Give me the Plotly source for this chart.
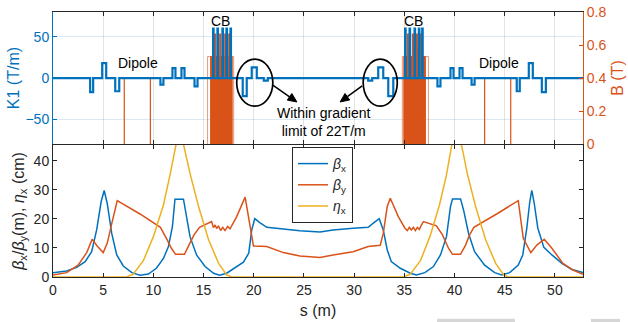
import plotly.graph_objects as go

# ---------------- data ----------------
S_MAX = 52.8

# Quadrupole / gradient elements (start s, end s, K1 in T/m)
quad_start = [3.7, 4.9, 6.2, 10.7, 11.9, 12.8, 14.1,
              15.95, 16.38, 16.88, 17.28, 17.68,
              18.9, 19.8, 21.0,
              31.4, 32.4, 33.4,
              35.08, 35.52, 36.02, 36.45, 36.78,
              38.3, 39.6, 40.5, 41.7, 46.2, 47.4, 48.7]
quad_end = [4.0, 5.3, 6.6, 11.0, 12.2, 13.1, 14.4,
            16.0, 16.43, 16.93, 17.33, 17.73,
            19.3, 20.3, 21.4,
            31.8, 32.9, 33.9,
            35.13, 35.57, 36.07, 36.5, 36.83,
            38.6, 39.9, 40.8, 42.0, 46.5, 47.8, 49.1]
quad_k1 = [-17, 18, -16, -8, 12, 12, -10,
           60, 60, 60, 60, 60,
           -22, 13, -3,
           -3, 13, -22,
           60, 60, 60, 60, 60,
           -10, 12, 12, -8, -16, 18, -17]

# Dipoles (start, end, B in T)
dip_start = [7.1, 43.0]
dip_end = [9.7, 45.6]
dip_b = [0.4, 0.4]

# Compact bend (CB) envelopes
cb_start = [15.4, 34.8]
cb_end = [18.0, 37.4]
cb_b = [0.53, 0.53]
cb_core_start = [15.7, 34.95]
cb_core_end = [17.85, 37.1]
# CB high-field poles
cbp_start = [16.15, 16.65, 17.15, 17.55, 35.35, 35.85, 36.25, 36.65]
cbp_end = [16.22, 16.72, 17.22, 17.62, 35.42, 35.92, 36.32, 36.72]
cbp_b = [0.67] * 8

# Optics functions
bx_s = [0, 1.36, 2.36, 3.2, 3.85, 4.35, 4.8, 5.1, 5.4, 5.85, 6.35, 7.0, 7.85, 8.67, 9.5,
        10.3, 11.0, 11.5, 11.9, 12.15, 13.0, 13.25, 13.65, 14.3, 15.15, 16.0, 16.6, 17.3,
        18.1, 18.97, 19.5, 19.8, 20.1, 20.6, 21.3, 22.95, 24.6, 26.6, 27.9, 29.9, 31.4,
        31.97, 32.5, 32.9, 33.3, 33.7, 34.6, 35.6, 36.2, 37.05, 37.9, 38.6, 39.2, 39.6,
        39.8, 40.6, 40.9, 41.4, 42.0, 43.0, 44.0, 44.7, 45.5, 46.35, 46.8, 47.2, 47.5,
        47.7, 47.94, 48.3, 48.9, 49.7, 50.7, 51.7, 52.8]
bx_v = [1.5, 2.1, 3.3, 5.3, 8.7, 16.2, 26.0, 29.8, 25.4, 15.0, 7.6, 3.8, 1.5, 0.6, 1.0,
        3.0, 6.4, 10.5, 17.4, 26.8, 26.8, 22.0, 13.9, 7.6, 3.6, 1.3, 0.6, 1.3,
        3.0, 5.1, 8.2, 16.2, 20.1, 18.7, 17.1, 16.4, 15.9, 15.5, 16.2, 16.8, 17.1,
        18.7, 20.1, 16.2, 9.3, 5.3, 3.0, 1.3, 0.7, 1.5, 3.6, 7.6, 13.9, 24.3,
        26.9, 26.9, 23.1, 15.0, 8.7, 4.1, 1.5, 0.7, 1.5, 4.1, 7.6, 16.8, 26.0,
        29.8, 25.4, 16.8, 10.2, 7.6, 4.7, 2.6, 1.5]

by_s = [0, 1.36, 2.5, 3.36, 3.9, 4.4, 5.0, 5.4, 5.9, 6.4, 8.67, 10.7, 11.3, 11.8, 12.2,
        13.1, 13.6, 14.05, 14.6, 15.8, 15.98, 16.15, 16.3, 16.48, 16.7, 16.9, 17.14,
        17.4, 17.64, 18.3, 19.14, 19.47, 19.97, 21.3, 22.95, 24.6, 26.6, 27.9, 29.9,
        31.4, 32.6, 32.9, 33.3, 33.6, 34.4, 35.06, 35.3, 35.5, 35.7, 35.9, 36.1, 36.3,
        36.5, 36.7, 36.9, 38.2, 38.8, 39.4, 39.8, 40.6, 41.1, 41.5, 41.93, 44.2, 46.35,
        46.85, 47.6, 48.2, 48.94, 49.7, 50.8, 51.8, 52.8]
by_v = [0.7, 1.5, 4.1, 8.4, 13.0, 10.7, 8.4, 11.6, 19.1, 26.3, 21.7, 17.1, 13.3, 9.9, 7.8,
        7.8, 11.4, 14.5, 17.1, 19.1, 17.0, 17.9, 16.7, 17.6, 16.0, 17.1, 16.0,
        17.4, 16.6, 20.8, 27.5, 20.8, 10.7, 10.5, 8.4, 7.2, 6.7, 7.6, 8.7,
        10.5, 10.9, 15.0, 24.3, 27.1, 20.8, 16.8, 16.0, 17.1, 16.2, 17.1, 16.0, 17.1,
        16.4, 17.9, 19.1, 17.6, 14.5, 9.9, 7.8, 7.8, 11.0, 14.5, 17.1, 21.7, 26.3,
        13.3, 8.4, 11.0, 13.0, 9.9, 4.7, 2.4, 0.9]

ex_s = [0, 7.34, 8.0, 9.0, 10.0, 11.0, 11.66, 12.06, 12.26, 12.6, 13.0, 13.2, 13.65, 14.5,
        15.5, 16.5, 17.3, 17.8, 34.9, 35.6, 36.6, 37.55, 38.5, 39.2, 39.55, 39.74, 40.2,
        40.67, 40.87, 41.27, 42.1, 43.1, 44.1, 44.9, 45.35, 52.8]
ex_v = [0, 0, 1.0, 5.6, 13.9, 24.8, 35.2, 42.6, 45.7, 46.2, 45.7, 42.6, 35.7, 24.3,
        12.8, 4.7, 0.7, 0, 0, 1.0, 5.6, 13.9, 24.8, 35.2, 42.6, 45.7, 46.2,
        45.7, 42.6, 35.7, 24.3, 12.8, 4.7, 0.7, 0, 0]

# ---------------- styling ----------------
BLUE = "#0072BD"
ORANGE = "#D95319"
YELLOW = "#EDB120"
DARK = "#262626"
FONT = "Liberation Sans, Arial, Helvetica, sans-serif"

K1_RANGE = [-80, 80]
B_RANGE = [0, 0.8]
BETA_RANGE = [0, 45.5]

# pixel geometry (used only for arrowhead shape)
PLOT_W = 530.0
TOP_H = 132.0
PX_PER_S = PLOT_W / S_MAX
PX_PER_K = TOP_H / (K1_RANGE[1] - K1_RANGE[0])


def gaps(starts, ends, vals):
    xs, ys = [], []
    for a, b, v in zip(starts, ends, vals):
        xs += [a, a, b, b, None]
        ys += [0, v, v, 0, None]
    return xs, ys


def step_profile(starts, ends, vals, s0, s1):
    xs, ys = [s0], [0]
    for a, b, v in sorted(zip(starts, ends, vals)):
        xs += [a, a, b, b]
        ys += [0, v, v, 0]
    xs.append(s1); ys.append(0)
    return xs, ys


fig = go.Figure()

# ---- top panel: B (right axis, base y2) ----
dx, dy = gaps(dip_start, dip_end, dip_b)
fig.add_trace(go.Scatter(x=dx, y=dy, mode="lines", line=dict(color=ORANGE, width=1.2),
                         xaxis="x2", yaxis="y2", showlegend=False, hoverinfo="skip"))
cx, cy = gaps(cb_start, cb_end, cb_b)
fig.add_trace(go.Scatter(x=cx, y=cy, mode="lines", line=dict(color="rgba(217,83,25,0.6)", width=1),
                         xaxis="x2", yaxis="y2", showlegend=False, hoverinfo="skip"))
for a, b, v in zip(cb_core_start, cb_core_end, cb_b):
    fig.add_trace(go.Scatter(x=[a, a, b, b], y=[0, v, v, 0], mode="lines", fill="toself",
                             fillcolor=ORANGE, line=dict(color=ORANGE, width=1),
                             xaxis="x2", yaxis="y2", showlegend=False, hoverinfo="skip"))
px_, py_ = gaps(cbp_start, cbp_end, cbp_b)
fig.add_trace(go.Scatter(x=px_, y=py_, mode="lines", line=dict(color=ORANGE, width=2),
                         xaxis="x2", yaxis="y2", showlegend=False, hoverinfo="skip"))

# ---- top panel: K1 (left axis, overlaying) ----
kx, ky = step_profile(quad_start, quad_end, quad_k1, 0, S_MAX)
fig.add_trace(go.Scatter(x=kx, y=ky, mode="lines", line=dict(color=BLUE, width=2.2),
                         xaxis="x2", yaxis="y3", showlegend=False, hoverinfo="skip"))

# ---- bottom panel ----
fig.add_trace(go.Scatter(x=bx_s, y=bx_v, mode="lines", name="<i>β</i><sub>x</sub>",
                         line=dict(color=BLUE, width=1.5), xaxis="x", yaxis="y"))
fig.add_trace(go.Scatter(x=by_s, y=by_v, mode="lines", name="<i>β</i><sub>y</sub>",
                         line=dict(color=ORANGE, width=1.5), xaxis="x", yaxis="y"))
fig.add_trace(go.Scatter(x=ex_s, y=ex_v, mode="lines", name="<i>η</i><sub>x</sub>",
                         line=dict(color=YELLOW, width=1.5), xaxis="x", yaxis="y"))

axis_common = dict(ticks="inside", ticklen=4, showline=True, linewidth=1, zeroline=False,
                   automargin=False)
S_TICKS = [0, 5, 10, 15, 20, 25, 30, 35, 40, 45, 50]

fig.update_layout(
    width=628, height=322,
    margin=dict(l=53, r=45, t=12, b=45),
    paper_bgcolor="white", plot_bgcolor="white",
    font=dict(family=FONT, size=14, color=DARK),
    xaxis=dict(domain=[0, 1], range=[0, S_MAX], anchor="y", tickvals=S_TICKS,
               mirror="ticks", linecolor=DARK, tickcolor=DARK, showgrid=False,
               title=dict(text="s (m)", font=dict(size=16), standoff=8), **axis_common),
    yaxis=dict(domain=[0, 0.4985], range=BETA_RANGE, anchor="x", tickvals=[0, 10, 20, 30, 40],
               mirror="ticks", linecolor=DARK, tickcolor=DARK, showgrid=False,
               title=dict(text="<i>β</i><sub>x</sub>/<i>β</i><sub>y</sub>(m), <i>η</i><sub>x</sub> (cm)",
                          font=dict(size=16), standoff=5), **axis_common),
    xaxis2=dict(domain=[0, 1], range=[0, S_MAX], anchor="y2", matches="x",
                tickvals=S_TICKS, showticklabels=False,
                mirror="ticks", linecolor=DARK, tickcolor=DARK,
                showgrid=True, gridcolor="rgba(38,38,38,0.13)", **axis_common),
    yaxis2=dict(domain=[0.5015, 1], range=B_RANGE, anchor="x2", side="right",
                tickvals=[0, 0.2, 0.4, 0.6, 0.8], ticktext=["0", "0.2", "0.4", "0.6", "0.8"],
                color=ORANGE, linecolor=ORANGE, tickcolor=ORANGE, showgrid=False,
                tickfont=dict(color=ORANGE),
                title=dict(text="B (T)", font=dict(size=16, color=ORANGE), standoff=6),
                **axis_common),
    yaxis3=dict(range=K1_RANGE, overlaying="y2", anchor="x2", side="left",
                tickvals=[-50, 0, 50], color=BLUE, linecolor=BLUE, tickcolor=BLUE,
                showgrid=True, gridcolor="rgba(0,114,189,0.15)",
                tickfont=dict(color=BLUE),
                title=dict(text="K1 (T/m)", font=dict(size=16, color=BLUE), standoff=1),
                **axis_common),
    legend=dict(x=0.451, y=0.4906, xanchor="left", yanchor="top", bgcolor="white",
                bordercolor=DARK, borderwidth=1, font=dict(size=14, color=DARK),
                itemwidth=30, tracegroupgap=0),
    showlegend=True,
)

# text annotations in the top panel (x2 / K1 axis coordinates)
ann = [
    dict(x=8.45, y=18, text="Dipole"),
    dict(x=44.4, y=18, text="Dipole"),
    dict(x=16.7, y=69, text="CB"),
    dict(x=35.9, y=69, text="CB"),
    dict(x=26.9, y=-53, text="Within gradient<br>limit of 22T/m"),
]
for a in ann:
    fig.add_annotation(xref="x2", yref="y3", showarrow=False, font=dict(size=14, color="black"), **a)

# arrows (ellipse -> text), drawn as line + triangular head shapes
arrows = [((21.9, -8.5), (24.3, -29.0)), ((30.8, -9.5), (28.6, -29.0))]
HEAD_LEN, HEAD_W = 9.0, 4.0
for (x0, y0), (x1, y1) in arrows:
    dxp = (x1 - x0) * PX_PER_S
    dyp = (y1 - y0) * PX_PER_K
    L = (dxp ** 2 + dyp ** 2) ** 0.5
    ux, uy = dxp / L, dyp / L
    bx = x1 - ux * HEAD_LEN / PX_PER_S
    by = y1 - uy * HEAD_LEN / PX_PER_K
    nx, ny = -uy, ux
    lx, ly = bx + nx * HEAD_W / PX_PER_S, by + ny * HEAD_W / PX_PER_K
    rx, ry = bx - nx * HEAD_W / PX_PER_S, by - ny * HEAD_W / PX_PER_K
    fig.add_shape(type="line", xref="x2", yref="y3", x0=x0, y0=y0, x1=bx, y1=by,
                  line=dict(color="black", width=1.5))
    fig.add_shape(type="path", xref="x2", yref="y3",
                  path=f"M {x1} {y1} L {lx} {ly} L {rx} {ry} Z",
                  fillcolor="black", line=dict(color="black", width=1))

# ellipses
fig.add_shape(type="circle", xref="x2", yref="y3", x0=18.3, x1=21.9, y0=-34, y1=23,
              line=dict(color="black", width=1.7))
fig.add_shape(type="circle", xref="x2", yref="y3", x0=30.9, x1=34.3, y0=-34, y1=23,
              line=dict(color="black", width=1.7))

# faint gray bars at the bottom edge
fig.add_shape(type="rect", xref="paper", yref="paper", x0=0.7245, x1=0.8717, y0=-0.17, y1=-0.158,
              line=dict(width=0), fillcolor="#d6d6d6")
fig.add_shape(type="rect", xref="paper", yref="paper", x0=1.015, x1=1.07, y0=-0.17, y1=-0.158,
              line=dict(width=0), fillcolor="#d6d6d6")

fig.write_html("out.html")
